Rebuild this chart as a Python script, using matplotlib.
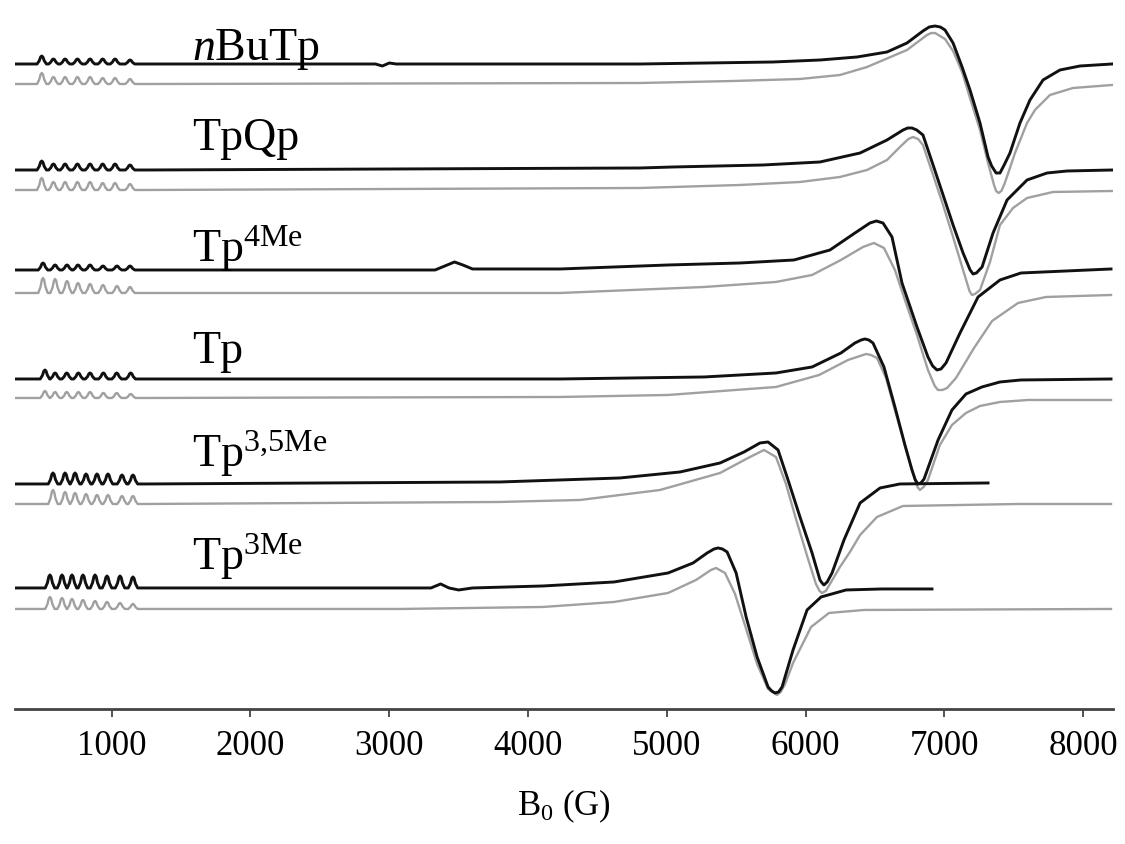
import numpy as np
import matplotlib
matplotlib.use('Agg')
import matplotlib.pyplot as plt

plt.rcParams['font.family'] = 'Liberation Serif'
plt.rcParams['mathtext.fontset'] = 'custom'
plt.rcParams['mathtext.rm'] = 'Liberation Serif'
plt.rcParams['mathtext.it'] = 'Liberation Serif:italic'

# complexes, top to bottom
names = ['$n$BuTp', 'TpQp', r'Tp$^{\rm 4Me}$', 'Tp', r'Tp$^{\rm 3{,}5Me}$', r'Tp$^{\rm 3Me}$']

# hyperfine lines at low field (G) and their heights (a.u.), experiment / simulation
hf_nbutp = [496, 580, 664, 753, 844, 935, 1024, 1132]
hf_nbutp_exp = [8, 5, 5, 5, 5, 5, 5, 4]
hf_nbutp_sim = [11, 7, 7, 7, 7, 6, 6, 5]

hf_tpqp = [496, 580, 664, 753, 844, 935, 1024, 1132]
hf_tpqp_exp = [9, 6, 6, 6, 6, 6, 6, 5]
hf_tpqp_sim = [12, 8, 8, 8, 8, 7, 7, 6]

hf_tp4me = [505, 592, 678, 757, 844, 937, 1038, 1132]
hf_tp4me_exp = [7, 5, 5, 5, 5, 4, 4, 4]
hf_tp4me_sim = [15, 14, 12, 10, 9, 8, 7, 6]

hf_tp = [519, 592, 676, 760, 844, 940, 1036, 1137]
hf_tp_exp = [9, 6, 6, 6, 6, 6, 6, 6]
hf_tp_sim = [7, 6, 6, 6, 6, 5, 5, 4]

hf_tp35me = [577, 664, 736, 815, 894, 973, 1074, 1153]
hf_tp35me_exp = [11, 11, 11, 10, 10, 10, 9, 9]
hf_tp35me_sim = [14, 12, 11, 10, 9, 9, 8, 8]

hf_tp3me = [555, 642, 714, 793, 880, 966, 1060, 1153]
hf_tp3me_exp = [13, 13, 13, 13, 13, 12, 12, 11]
hf_tp3me_sim = [12, 11, 10, 9, 8, 7, 6, 5]

# main signal: field (G) and intensity (a.u.)
nbutp_exp_field = [1250, 2900, 2950, 3000, 3050, 4806, 5765, 6103, 6370, 6586, 6730, 6845, 6890, 6932,
                   6970, 7004, 7062, 7127, 7184, 7256, 7314, 7340, 7372, 7400, 7430, 7472, 7544,
                   7616, 7710, 7832, 7976, 8207]
nbutp_exp = [0, 0, -2, 1, 0, 0, 2, 4, 7, 12, 21, 33, 37, 38,
             37, 34, 21, -3, -26, -59, -93, -102, -109, -109, -101, -89, -59,
             -36, -16, -6, -2, 0]
nbutp_sim_field = [1250, 4806, 5476, 5959, 6247, 6442, 6730, 6874, 6905, 6932, 7004, 7062, 7127,
                   7184, 7256, 7314, 7357, 7372, 7390, 7410, 7432, 7472, 7508, 7595, 7652, 7760,
                   7926, 8207]
nbutp_sim = [0, 1, 3, 5, 9, 17, 34, 49, 51, 51, 45, 33, 12,
             -14, -46, -79, -101, -107, -109, -107, -100, -84, -69, -39, -26, -11,
             -4, -1]

tpqp_exp_field = [1250, 4806, 5044, 5693, 6103, 6392, 6586, 6702, 6735, 6766, 6800, 6845, 6918,
                  6990, 7062, 7134, 7185, 7206, 7230, 7271, 7350, 7451, 7595, 7739, 7883, 8207]
tpqp_exp = [0, 2, 3, 5, 8, 17, 30, 40, 42, 42, 40, 35, 5,
            -25, -55, -83, -100, -104, -103, -97, -63, -30, -10, -3, -1, 0]
tpqp_sim_field = [1250, 4806, 5526, 5959, 6247, 6442, 6586, 6679, 6740, 6773, 6810, 6845, 6918,
                  6990, 7062, 7134, 7180, 7198, 7220, 7256, 7328, 7400, 7494, 7595, 7782, 8207]
tpqp_sim = [0, 2, 5, 8, 13, 20, 30, 43, 51, 53, 51, 45, 15,
            -15, -47, -80, -101, -105, -104, -100, -72, -35, -18, -8, -2, -1]

tp4me_exp_field = [1250, 3330, 3400, 3470, 3530, 3600, 4231, 5009, 5528, 5916, 6175, 6355, 6463,
                   6510, 6557, 6622, 6694, 6802, 6881, 6915, 6946, 6975, 7011, 7112, 7242, 7400,
                   7551, 8200]
tp4me_exp = [0, 0, 4, 8, 5, 1, 1, 5, 7, 10, 20, 37, 47,
             49, 47, 33, -13, -57, -87, -96, -100, -99, -93, -63, -27, -10,
             -3, 1]
tp4me_sim_field = [1250, 4231, 5268, 5786, 6046, 6254, 6413, 6492, 6564, 6643, 6715, 6802, 6881,
                   6930, 6953, 6985, 7019, 7083, 7213, 7343, 7530, 7732, 8200]
tp4me_sim = [0, 0, 6, 11, 18, 33, 46, 50, 45, 23, -7, -42, -77,
             -93, -97, -97, -95, -85, -55, -28, -10, -4, -2]

tp_exp_field = [1250, 4230, 5268, 5786, 6046, 6254, 6355, 6400, 6427, 6455, 6485, 6564, 6643,
                6715, 6766, 6790, 6809, 6830, 6853, 6954, 7054, 7155, 7270, 7400, 7551, 8200]
tp_exp = [0, 0, 2, 6, 12, 26, 36, 39, 40, 39, 36, 12, -28,
          -66, -91, -101, -105, -104, -100, -61, -31, -15, -8, -3, -1, 0]
tp_sim_field = [1250, 4230, 5009, 5786, 6097, 6305, 6435, 6470, 6514, 6579, 6643, 6715, 6766,
                6805, 6823, 6850, 6881, 6967, 7054, 7155, 7256, 7400, 7602, 8200]
tp_sim = [0, 1, 3, 11, 23, 38, 44, 43, 40, 20, -12, -47, -72,
          -89, -92, -89, -82, -47, -27, -15, -8, -4, -2, -2]

tp35me_exp_field = [1250, 3797, 4662, 5095, 5383, 5556, 5671, 5729, 5801, 5873, 5959, 6046, 6103,
                    6118, 6132, 6155, 6190, 6276, 6392, 6536, 6679, 7314]
tp35me_exp = [0, 2, 6, 12, 21, 32, 41, 42, 34, 4, -33, -69, -96,
              -99, -101, -98, -89, -56, -19, -4, 0, 1]
tp35me_sim_field = [1250, 3797, 4375, 4951, 5383, 5585, 5700, 5786, 5858, 5930, 6017, 6074, 6100,
                    6118, 6145, 6175, 6247, 6319, 6392, 6514, 6701, 7544, 8200]
tp35me_sim = [0, 2, 4, 14, 31, 46, 54, 47, 20, -15, -55, -80, -87,
              -89, -87, -80, -63, -48, -31, -13, -2, 0, 0]

tp3me_exp_field = [1250, 3077, 3300, 3370, 3430, 3500, 3600, 4108, 4620, 5009, 5189, 5290, 5340,
                   5369, 5400, 5434, 5499, 5571, 5650, 5729, 5755, 5780, 5805, 5830, 5909, 6010,
                   6111, 6291, 6550, 6910]
tp3me_exp = [0, 0, 0, 4, 0, -2, 0, 2, 6, 15, 25, 35, 39,
             40, 39, 36, 15, -29, -69, -99, -103, -105, -104, -99, -62, -22,
             -9, -2, -1, -1]
tp3me_sim_field = [1250, 3077, 4108, 4620, 5009, 5210, 5318, 5354, 5419, 5491, 5571, 5650, 5729,
                   5770, 5794, 5820, 5852, 5909, 6039, 6168, 6420, 8200]
tp3me_sim = [0, 0, 2, 7, 16, 29, 39, 41, 36, 15, -20, -55, -80,
             -84, -86, -83, -75, -54, -18, -4, -1, 0]

# vertical stacking (baselines) and label baselines
exp_offsets = [645, 539, 439, 330, 225, 121]
sim_offsets = [625, 519, 416, 311, 205, 100]
label_y = [649, 559, 447, 346, 242, 139]
label_x = 1580

# shape of one small hyperfine line (field offset in G, fraction of height)
BUMP = [(-34, 0), (-18, 0.4), (-8, 0.88), (0, 1), (8, 0.88), (18, 0.4), (34, 0)]


def build_trace(hf_pos, hf_h, field, inten, start=300):
    xs, ys = [start], [0]
    for p, h in zip(hf_pos, hf_h):
        for dx, f in BUMP:
            xs.append(p + dx)
            ys.append(h * f)
    xs += list(field)
    ys += list(inten)
    return np.array(xs), np.array(ys)


exp_traces = [
    (hf_nbutp, hf_nbutp_exp, nbutp_exp_field, nbutp_exp),
    (hf_tpqp, hf_tpqp_exp, tpqp_exp_field, tpqp_exp),
    (hf_tp4me, hf_tp4me_exp, tp4me_exp_field, tp4me_exp),
    (hf_tp, hf_tp_exp, tp_exp_field, tp_exp),
    (hf_tp35me, hf_tp35me_exp, tp35me_exp_field, tp35me_exp),
    (hf_tp3me, hf_tp3me_exp, tp3me_exp_field, tp3me_exp),
]
sim_traces = [
    (hf_nbutp, hf_nbutp_sim, nbutp_sim_field, nbutp_sim),
    (hf_tpqp, hf_tpqp_sim, tpqp_sim_field, tpqp_sim),
    (hf_tp4me, hf_tp4me_sim, tp4me_sim_field, tp4me_sim),
    (hf_tp, hf_tp_sim, tp_sim_field, tp_sim),
    (hf_tp35me, hf_tp35me_sim, tp35me_sim_field, tp35me_sim),
    (hf_tp3me, hf_tp3me_sim, tp3me_sim_field, tp3me_sim),
]

fig = plt.figure(figsize=(11.25, 8.44), dpi=100)
ax = fig.add_axes([0.0133, 0.16, 0.976, 0.84])

# simulated spectra (grey) under the experimental ones (black)
for tr, off in zip(sim_traces, sim_offsets):
    x, y = build_trace(*tr)
    ax.plot(x, y + off, color='#a0a0a0', lw=1.7, solid_joinstyle='round')

for tr, off in zip(exp_traces, exp_offsets):
    x, y = build_trace(*tr)
    ax.plot(x, y + off, color='#111111', lw=2.1, solid_joinstyle='round')

for name, ly in zip(names, label_y):
    ax.text(label_x, ly, name, fontsize=33, ha='left', va='baseline')

ax.set_xlim(303, 8214)
ax.set_ylim(0, 709)
ax.set_xticks([1000, 2000, 3000, 4000, 5000, 6000, 7000, 8000])
ax.set_yticks([])
for s in ['left', 'right', 'top']:
    ax.spines[s].set_visible(False)
ax.spines['bottom'].set_linewidth(2)
ax.spines['bottom'].set_color('#444444')
ax.tick_params(axis='x', direction='out', length=6, width=1.3, color='#444444',
               labelsize=25, pad=9)
ax.set_xlabel(r'B$_0$ (G)', fontsize=25, labelpad=18)

fig.savefig('out.png', dpi=100)
